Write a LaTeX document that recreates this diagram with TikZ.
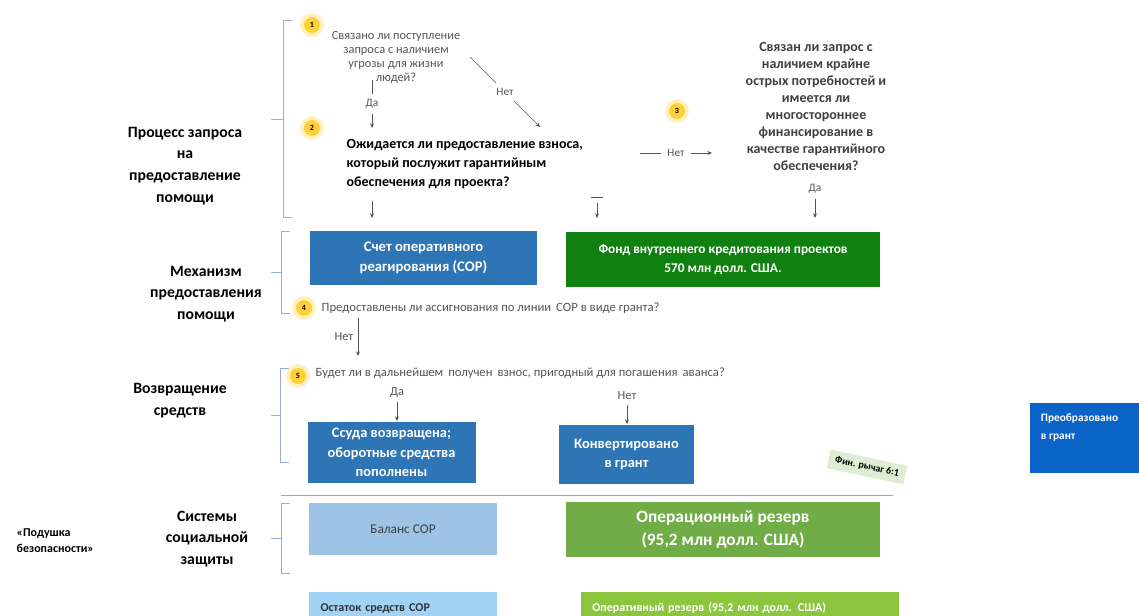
\documentclass[tikz,border=0pt]{standalone}
\usepackage{fontspec}
\setmainfont{Carlito}
\usetikzlibrary{arrows.meta, positioning, calc}

\definecolor{sorblue}{RGB}{46,117,182}
\definecolor{fundgreen}{RGB}{16,128,16}
\definecolor{sorlight}{RGB}{157,195,230}
\definecolor{resgreen}{RGB}{112,173,71}
\definecolor{restblue}{RGB}{160,210,245}
\definecolor{reslight}{RGB}{140,198,63}
\definecolor{grantblue}{RGB}{10,100,200}
\definecolor{bracecol}{RGB}{150,175,210}
\definecolor{numyellow}{RGB}{255,208,55}
\definecolor{numhalo}{RGB}{255,240,190}
\definecolor{tagcol}{RGB}{222,238,212}
\definecolor{qgray}{RGB}{85,85,85}

\begin{document}
\begin{tikzpicture}[
  x=0.75pt,
  y=-0.75pt,
  side/.style={align=center, font=\fontsize{11.8}{16.3}\selectfont\bfseries},
  num/.style={circle, fill=numyellow, draw=numhalo, line width=2.8pt, minimum size=15pt, inner sep=0pt, font=\fontsize{6}{6}\selectfont\bfseries},
  small/.style={text=qgray, font=\fontsize{9.3}{10.5}\selectfont},
  lbl/.style={text=qgray, fill=white, inner xsep=1pt, inner ysep=4pt, font=\fontsize{8.5}{8.5}\selectfont},
  conn/.style={qgray, line width=0.5pt, -{Stealth[length=3.5pt, width=3pt]}},
  brace/.style={bracecol, line width=0.6pt},
  bluebox/.style={fill=sorblue, text=white, align=center, inner sep=0pt, font=\fontsize{10.8}{14.5}\selectfont\bfseries},
  greenbox/.style={fill=fundgreen, text=white, align=center, inner sep=0pt, font=\fontsize{10}{14}\selectfont\bfseries}
  ]
\useasboundingbox (0,0) rectangle (1139,616);

% left column
\node[side] (lproc) at (185,166) {Процесс запроса\\на\\предоставление\\помощи};
\node[side] (lmech) at (206,294) {Механизм\\предоставления\\помощи};
\node[side] (lret) at (180,401) {Возвращение\\средств};
\node[side] (lsoc) at (207,539) {Системы\\социальной\\защиты};
\node[align=left, anchor=west, font=\fontsize{9}{12}\selectfont\bfseries] (lcush) at (12,541) {«Подушка\\безопасности»};

% brackets
\draw[brace] (292,20) -- (283,20) -- (283,217) -- (292,217);
\draw[brace] (283,119) -- (271,119);
\draw[brace] (290,231) -- (281,231) -- (281,313) -- (290,313);
\draw[brace] (281,272) -- (271,272);
\draw[brace] (289,368) -- (280,368) -- (280,462) -- (289,462);
\draw[brace] (280,415) -- (271,415);
\draw[brace] (290,503) -- (281,503) -- (281,573) -- (290,573);
\draw[brace] (281,538) -- (271,538);

% questions
\node[num] (n1) at (312,25) {1};
\node[small, align=center] (q1) at (396,57) {Связано ли поступление\\запроса с наличием\\угрозы для жизни\\людей?};
\node[num] (n2) at (312,128) {2};
\node[anchor=west, align=left, font=\fontsize{10.5}{14}\selectfont\bfseries] (q2) at (342,164) {Ожидается ли предоставление взноса,\\который послужит гарантийным\\обеспечения для проекта?};
\node[num] (n3) at (677,111) {3};
\node[align=center, text=black!75, font=\fontsize{10.5}{12.75}\selectfont\bfseries] (q3) at (816,106) {Связан ли запрос с\\наличием крайне\\острых потребностей и\\имеется ли\\многостороннее\\финансирование в\\качестве гарантийного\\обеспечения?};
\node[lbl] (q3yes) at (815,189) {Да};

\coordinate (q1yes) at (372,80);
\coordinate (q2yes) at (372,128);
\coordinate (q1no) at (470,57);
\coordinate (q2no) at (540,127);
\coordinate (q2out) at (640,153);
\coordinate (q3in) at (712,153);
\draw[conn] (q1yes) -- node[lbl]{Да} (q2yes);
\draw[conn] (q1no) -- node[lbl]{Нет} (q2no);
\draw[conn] (q2out) -- node[lbl, inner xsep=5pt]{Нет} (q3in);

% arrows into the boxes
\coordinate (a1) at (372,201);
\coordinate (b1) at (372,218);
\coordinate (a2) at (597,203);
\coordinate (b2) at (597,218);
\coordinate (b3) at (815,218);
\draw[conn] (a1) -- (b1);
\draw[qgray, line width=0.4pt] (591,197) -- (603,197);
\draw[conn] (a2) -- (b2);
\draw[conn] (q3yes) -- (b3);

% mechanism
\node[bluebox, minimum width=170.25pt, minimum height=40.5pt, font=\fontsize{11}{15}\selectfont\bfseries] (sor) at (423.5,258) {Счет оперативного\\реагирования (СОР)};
\node[greenbox, minimum width=235.5pt, minimum height=41.25pt] (fund) at (723,259.5) {Фонд внутреннего кредитования проектов\\570 млн долл. США.};

\node[num] (n4) at (304,308) {4};
\node[small, anchor=west, font=\fontsize{9.5}{10.5}\selectfont] (q4) at (317,308) {Предоставлены ли ассигнования по линии\, СОР в виде гранта?};
\coordinate (q4out) at (358,318);
\coordinate (q5in) at (358,356);
\draw[conn] (q4out) -- node[small, left]{Нет} (q5in);

% return of funds
\node[num] (n5) at (298,376) {5};
\node[small, anchor=west, font=\fontsize{9.5}{10.5}\selectfont] (q5) at (311,373) {Будет ли в дальнейшем\, получен\, взнос, пригодный для погашения\, аванса?};
\node[small] (q5yes) at (397,392) {Да};
\node[small] (q5no) at (627,396) {Нет};
\node[bluebox, minimum width=126pt, minimum height=45.75pt] (loan) at (391.5,452.5) {Ссуда возвращена;\\оборотные средства\\пополнены};
\node[bluebox, minimum width=101.25pt, minimum height=44.25pt] (conv) at (626.5,454.5) {Конвертировано\\в грант};
\draw[conn] (q5yes) -- (q5yes |- 0,421);
\draw[conn] (q5no) -- (q5no |- 0,424);

\node[fill=tagcol, rotate=-12, inner xsep=5pt, inner ysep=4pt, font=\fontsize{7.5}{7.5}\selectfont\bfseries] (lever) at (867,467) {Фин. рычаг 6:1};

\draw[gray!70, line width=0.7pt] (281,495) -- (893,495);

% social protection
\node[fill=sorlight, minimum width=141pt, minimum height=39pt, text=black!75, font=\fontsize{10}{12}\selectfont] (bal) at (403,529) {Баланс СОР};
\node[fill=resgreen, text=white, align=center, minimum width=235.5pt, minimum height=41.25pt, inner sep=0pt, font=\fontsize{13}{17}\selectfont\bfseries] (opres) at (723,529.5) {Операционный резерв\\(95,2 млн долл. США)};

% bottom row
\node[fill=restblue, anchor=north west, minimum width=141pt, minimum height=24pt, text width=124pt, inner xsep=8.5pt, align=left, text=black!80, font=\fontsize{9}{11}\selectfont\bfseries] (rest) at (309,592) {Остаток средств СОР};
\node[fill=reslight, anchor=north west, minimum width=238.5pt, minimum height=24pt, text width=222pt, inner xsep=8.25pt, align=left, text=white, font=\fontsize{9}{11}\selectfont\bfseries] (oper) at (581,592) {Оперативный резерв (95,2 млн долл. США)};

\node[fill=grantblue, anchor=north west, minimum width=88pt, minimum height=52.5pt] (grant) at (1030,403) {};
\node[anchor=north west, align=left, inner xsep=8pt, inner ysep=8pt, text=white, font=\fontsize{8.5}{13.5}\selectfont\bfseries] (granttxt) at (grant.north west) {Преобразовано\\в грант};

\end{tikzpicture}
\end{document}
